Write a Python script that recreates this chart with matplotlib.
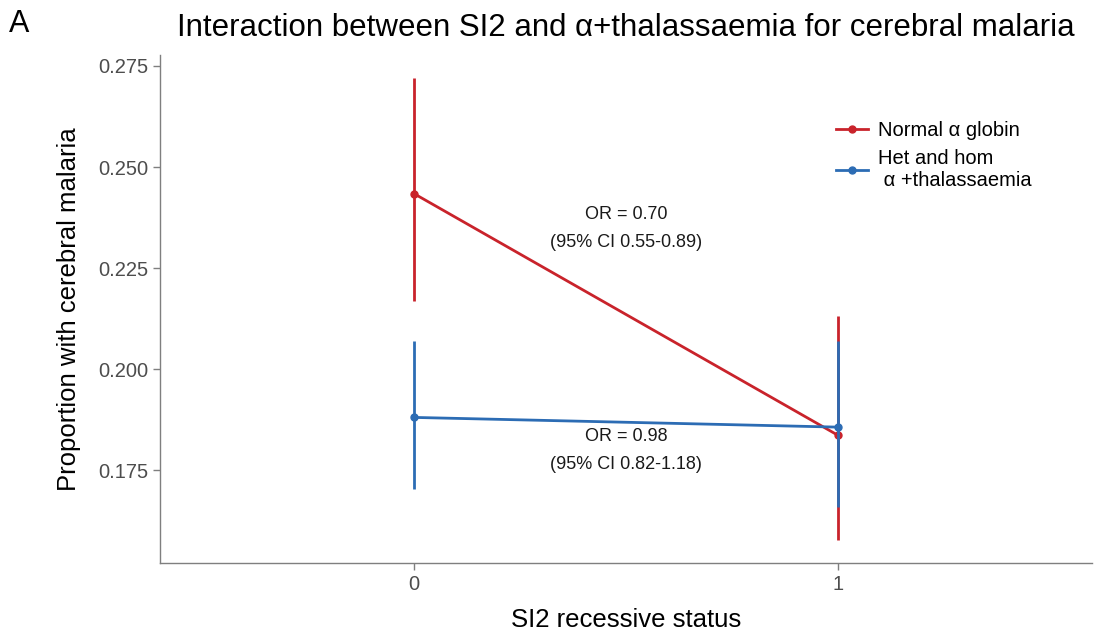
import matplotlib
matplotlib.use("Agg")
import matplotlib.pyplot as plt
from matplotlib.lines import Line2D

plt.rcParams['font.family'] = ['Liberation Sans', 'DejaVu Sans']

# SI2 recessive status on x, proportion with cerebral malaria on y
status = [0, 1]
normal_prop = [0.2434, 0.1837]
normal_lo = [0.2170, 0.1578]
normal_hi = [0.2720, 0.2131]
thal_prop = [0.1881, 0.1857]
thal_lo = [0.1704, 0.1659]
thal_hi = [0.2071, 0.2069]

yticks = [0.175, 0.200, 0.225, 0.250, 0.275]
series_labels = ["Normal \u03b1 globin", "Het and hom\n \u03b1 +thalassaemia"]
or_text = ["OR = 0.70\n(95% CI 0.55-0.89)", "OR = 0.98\n(95% CI 0.82-1.18)"]

red = "#c9232b"
blue = "#2c6cb4"

fig = plt.figure(figsize=(10.95, 6.3), dpi=100)
ax = fig.add_axes([0.1461, 0.1063, 0.8512, 0.8064])

for prop, lo, hi, col in [(normal_prop, normal_lo, normal_hi, red),
                          (thal_prop, thal_lo, thal_hi, blue)]:
    ax.vlines(status, lo, hi, color=col, lw=2)
    ax.plot(status, prop, color=col, lw=2, marker='o', ms=5)

# OR annotations midway between the two groups
ax.text(0.5, 0.2348, or_text[0], ha='center', va='center', fontsize=13,
        linespacing=1.85, color='#1a1a1a')
ax.text(0.5, 0.1800, or_text[1], ha='center', va='center', fontsize=13,
        linespacing=1.85, color='#1a1a1a')

ax.set_xlim(-0.6, 1.6)
ax.set_ylim(0.1521, 0.2777)
ax.set_xticks(status)
ax.set_xticklabels(["0", "1"])
ax.set_yticks(yticks)
ax.set_yticklabels([f"{v:.3f}" for v in yticks])

for side in ['top', 'right']:
    ax.spines[side].set_visible(False)
for side in ['left', 'bottom']:
    ax.spines[side].set_color('#7f7f7f')
    ax.spines[side].set_linewidth(1)
ax.tick_params(colors='#7f7f7f', labelcolor='#4d4d4d', labelsize=14.5,
               length=5, width=1)

ax.set_xlabel("SI2 recessive status", fontsize=18.5, labelpad=10)
ax.set_ylabel("Proportion with cerebral malaria", fontsize=18.5, labelpad=12)
ax.set_title("Interaction between SI2 and \u03b1+thalassaemia for cerebral malaria",
             fontsize=22.5, pad=14)
fig.text(0.008, 0.962, "A", fontsize=22, ha='left', va='center')

handles = [Line2D([0], [0], color=red, lw=2, marker='o', ms=5),
           Line2D([0], [0], color=blue, lw=2, marker='o', ms=5)]
ax.legend(handles, series_labels, loc='upper left', bbox_to_anchor=(0.706, 0.905),
          frameon=False, fontsize=14.5, handlelength=1.6, handletextpad=0.5,
          labelspacing=0.45)

fig.savefig("out.png", dpi=100)
